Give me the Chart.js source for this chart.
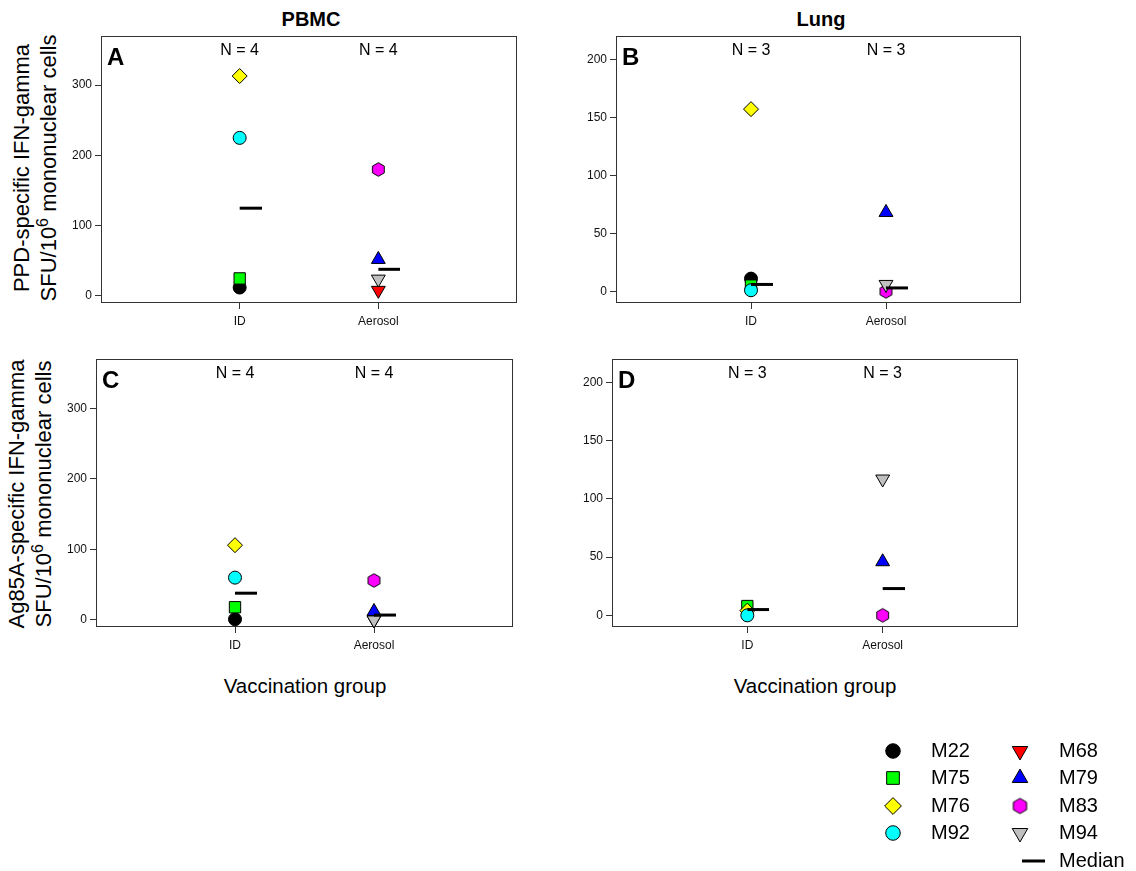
<!DOCTYPE html>
<html>
<head>
<meta charset="utf-8">
<script src="https://cdn.jsdelivr.net/npm/chart.js@4.4.1/dist/chart.umd.min.js"></script>
<style>
body { margin: 0; background: #fff; }
#page { position: relative; width: 1136px; height: 871px; font-family: 'Liberation Sans', Arial, sans-serif; color: #000; overflow: hidden; }
canvas { position: absolute; }
.txt { position: absolute; white-space: nowrap; transform: translate(-50%, -50%); }
.ytitle { position: absolute; white-space: nowrap; text-align: center; font-size: 22px; line-height: 27px; transform: translate(-50%, -50%) rotate(-90deg); }
.ytitle sup { font-size: 16px; line-height: 0; }
</style>
</head>
<body>
<div id="page">
  <div class="txt" style="left:311px; top:19px; font-size:20px; font-weight:bold">PBMC</div>
  <div class="txt" style="left:821px; top:19px; font-size:20px; font-weight:bold">Lung</div>
  <div class="ytitle" style="left:35px; top:168px">PPD-specific IFN-gamma<br>SFU/10<sup>6</sup> mononuclear cells</div>
  <div class="ytitle" style="left:30px; top:494px">Ag85A-specific IFN-gamma<br>SFU/10<sup>6</sup> mononuclear cells</div>
  <div class="txt" style="left:305px; top:686px; font-size:20.5px">Vaccination group</div>
  <div class="txt" style="left:815px; top:686px; font-size:20.5px">Vaccination group</div>
</div>
<script>
// data
const groups = ['ID', 'Aerosol'];
const animals = ['M22', 'M75', 'M76', 'M92', 'M68', 'M79', 'M83', 'M94'];
const animalGroup = [1, 1, 1, 1, 2, 2, 2, 2];   // 1 = ID, 2 = Aerosol

const ppdPBMC   = [12, 25, 313, 225, 8, 52, 180, 24];
const ppdLung   = [11, 5, 157, 1, null, 68, 0, 6];
const ag85aPBMC = [1, 18, 106, 60, 0, 12, 56, 0];
const ag85aLung = [null, 8, 4, 0, null, 46, 0, 117];

const ppdPBMCMedian   = [125, 38];
const ppdLungMedian   = [6, 3];
const ag85aPBMCMedian = [38, 7];
const ag85aLungMedian = [5, 23];

const pbmcN = [4, 4];
const lungN = [3, 3];
const pbmcTicks = [0, 100, 200, 300];
const lungTicks = [0, 50, 100, 150, 200];

// marker styles
const markerColors = ['#000000', '#00ff00', '#ffff00', '#00ffff', '#ff0000', '#0000ff', '#ff00ff', '#c0c0c0'];
const markerStyles = ['circle', 'rect', 'rectRot', 'circle', 'triangle', 'triangle', 'hexagon', 'triangle'];
const markerRotation = [0, 0, 0, 0, 180, 0, 0, 180];
const markerRadius = [6.5, 8, 7.5, 6.5, 8, 8, 6.8, 8];

const FONT = "'Liberation Sans', Arial, sans-serif";
Chart.defaults.font.family = FONT;
Chart.defaults.color = '#111';

const Y_AXIS_W = 60, X_AXIS_H = 50, PAD_T = 12, PAD_R = 12;

function hexImage(r, fill) {
  const c = document.createElement('canvas');
  const s = Math.ceil(r * 2 + 3);
  c.width = s; c.height = s;
  const g = c.getContext('2d');
  g.beginPath();
  for (let k = 0; k < 6; k++) {
    const a = -Math.PI / 2 + k * Math.PI / 3;
    const px = s / 2 + r * Math.cos(a), py = s / 2 + r * Math.sin(a);
    if (k) g.lineTo(px, py); else g.moveTo(px, py);
  }
  g.closePath();
  g.fillStyle = fill; g.fill();
  g.strokeStyle = '#000'; g.lineWidth = 1; g.stroke();
  return c;
}

// median bar starts at the group position and runs to the right
function medianImage(len, thick) {
  const c = document.createElement('canvas');
  c.width = len * 2; c.height = thick + 2;
  const g = c.getContext('2d');
  g.fillStyle = '#000';
  g.fillRect(len, 1, len, thick);
  return c;
}

const medianImg = medianImage(22, 3);

function styleFor(i, scale) {
  if (markerStyles[i] === 'hexagon') return hexImage(markerRadius[i] * scale, markerColors[i]);
  return markerStyles[i];
}

const panelDecor = {
  id: 'panelDecor',
  beforeDatasetsDraw(chart, args, opts) {
    const { ctx, chartArea: a } = chart;
    ctx.save();
    ctx.strokeStyle = '#333';
    ctx.lineWidth = 1;
    ctx.strokeRect(Math.round(a.left) + 0.5, Math.round(a.top) + 0.5,
      Math.round(a.right - a.left) - 1, Math.round(a.bottom - a.top) - 1);
    ctx.fillStyle = '#000';
    ctx.font = 'bold 24px ' + FONT;
    ctx.textAlign = 'left';
    ctx.textBaseline = 'alphabetic';
    ctx.fillText(opts.letter, a.left + 6, a.top + 29);
    ctx.font = '16px ' + FONT;
    ctx.textAlign = 'center';
    ctx.textBaseline = 'middle';
    opts.n.forEach((n, i) => {
      ctx.fillText('N = ' + n, chart.scales.x.getPixelForValue(i + 1), a.top + 15);
    });
    ctx.restore();
  }
};

const panels = [
  { letter: 'A', left: 101, top: 36, right: 517, bottom: 303, values: ppdPBMC, medians: ppdPBMCMedian, n: pbmcN, ticks: pbmcTicks, min: -10, max: 370 },
  { letter: 'B', left: 616, top: 36, right: 1021, bottom: 303, values: ppdLung, medians: ppdLungMedian, n: lungN, ticks: lungTicks, min: -10, max: 220 },
  { letter: 'C', left: 96, top: 359, right: 513, bottom: 627, values: ag85aPBMC, medians: ag85aPBMCMedian, n: pbmcN, ticks: pbmcTicks, min: -10, max: 370 },
  { letter: 'D', left: 612, top: 359, right: 1018, bottom: 627, values: ag85aLung, medians: ag85aLungMedian, n: lungN, ticks: lungTicks, min: -10, max: 220 }
];

const page = document.getElementById('page');

panels.forEach(p => {
  const cv = document.createElement('canvas');
  const w = Y_AXIS_W + (p.right - p.left) + PAD_R;
  const h = PAD_T + (p.bottom - p.top) + X_AXIS_H;
  cv.width = w; cv.height = h;
  cv.style.left = (p.left - Y_AXIS_W) + 'px';
  cv.style.top = (p.top - PAD_T) + 'px';
  cv.style.width = w + 'px'; cv.style.height = h + 'px';
  page.appendChild(cv);

  const datasets = animals.map((name, i) => ({
    label: name,
    data: p.values[i] == null ? [] : [{ x: animalGroup[i], y: p.values[i] }],
    pointStyle: styleFor(i, 1),
    pointRotation: markerRotation[i],
    pointRadius: markerRadius[i],
    pointBackgroundColor: markerColors[i],
    pointBorderColor: '#000',
    pointBorderWidth: 1,
    clip: false,
    order: animals.length - i
  }));
  datasets.push({
    label: 'Median',
    data: p.medians.map((m, i) => ({ x: i + 1, y: m })),
    pointStyle: medianImg,
    pointRadius: 11,
    clip: false,
    order: -1
  });

  new Chart(cv, {
    type: 'scatter',
    data: { datasets },
    options: {
      responsive: false,
      animation: false,
      events: [],
      layout: { padding: { top: PAD_T, right: PAD_R, left: 0, bottom: 0 } },
      plugins: {
        legend: { display: false },
        tooltip: { enabled: false },
        panelDecor: { letter: p.letter, n: p.n }
      },
      scales: {
        x: {
          type: 'linear', min: 0, max: 3,
          afterBuildTicks: s => { s.ticks = groups.map((g, i) => ({ value: i + 1 })); },
          afterFit: s => { s.height = X_AXIS_H; },
          ticks: { callback: v => groups[v - 1], padding: 5, font: { size: 12 }, color: '#111', maxRotation: 0, autoSkip: false },
          grid: { drawOnChartArea: false, drawTicks: true, tickLength: 6, color: '#333' },
          border: { display: false }
        },
        y: {
          type: 'linear', min: p.min, max: p.max,
          afterBuildTicks: s => { s.ticks = p.ticks.map(v => ({ value: v })); },
          afterFit: s => { s.width = Y_AXIS_W; },
          ticks: { padding: 3, font: { size: 12 }, color: '#111' },
          grid: { drawOnChartArea: false, drawTicks: true, tickLength: 6, color: '#333' },
          border: { display: false }
        }
      }
    },
    plugins: [panelDecor]
  });
});

// legend
const lg = document.createElement('canvas');
lg.width = 1136; lg.height = 871;
lg.style.left = '0px'; lg.style.top = '0px';
page.appendChild(lg);
const lctx = lg.getContext('2d');
const legendRowY = [751, 778, 806, 833, 861];
const legendMarkX = [893, 1020];
const legendTextX = [931, 1059];
const LEG_SCALE = 1.12;
lctx.font = '20px ' + FONT;
lctx.textBaseline = 'middle';
lctx.textAlign = 'left';
animals.forEach((name, i) => {
  const col = Math.floor(i / 4), row = i % 4;
  lctx.fillStyle = markerColors[i];
  lctx.strokeStyle = '#000';
  lctx.lineWidth = 1;
  Chart.helpers.drawPoint(lctx, {
    pointStyle: styleFor(i, LEG_SCALE),
    rotation: markerRotation[i],
    radius: markerRadius[i] * LEG_SCALE,
    borderWidth: 1
  }, legendMarkX[col], legendRowY[row]);
  lctx.fillStyle = '#000';
  lctx.fillText(name, legendTextX[col], legendRowY[row]);
});
lctx.fillStyle = '#000';
lctx.fillRect(1022, legendRowY[4] - 1.5, 23, 3);
lctx.fillText('Median', legendTextX[1], legendRowY[4]);
</script>
</body>
</html>
